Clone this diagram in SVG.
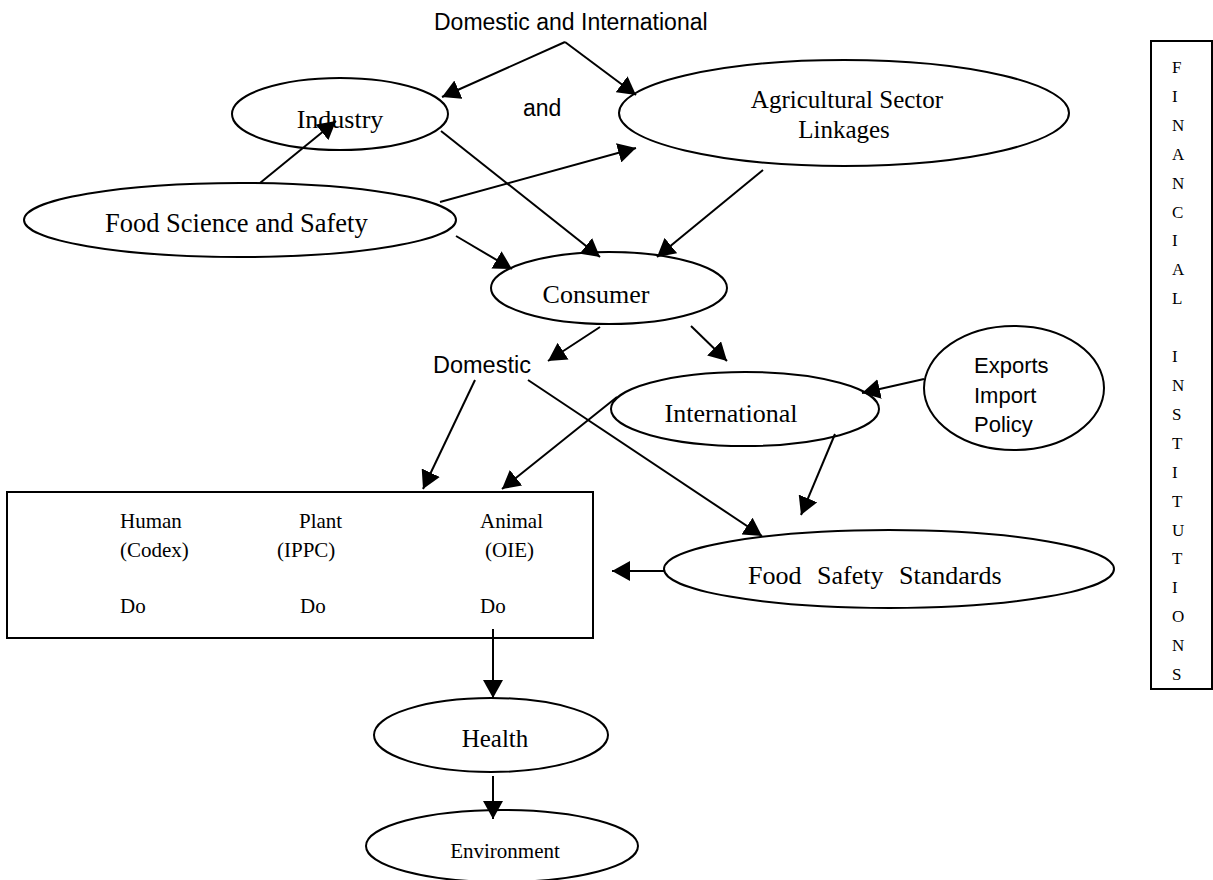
<svg xmlns="http://www.w3.org/2000/svg" width="1213" height="880" viewBox="0 0 1213 880">
<style>
.node ellipse, .node rect { fill: #fff; stroke: #000; stroke-width: 2; }
.serif { font-family: "Liberation Serif", "Times New Roman", serif; fill: #000; }
.sans { font-family: "Liberation Sans", Arial, sans-serif; fill: #000; }
.mid { text-anchor: middle; }
#connectors line { stroke: #000; stroke-width: 2; fill: none; marker-end: url(#arrow); }
#connectors line.plain { marker-end: none; }
</style>
<defs>
<marker id="arrow" markerUnits="userSpaceOnUse" markerWidth="20" markerHeight="20" refX="18" refY="10" orient="auto">
<path d="M0,0 L18,10 L0,20 z" fill="#000"/>
</marker>
</defs>
<rect width="1213" height="880" fill="#fff"/>

<g id="label-top"><text class="sans" x="434" y="30" font-size="23">Domestic and International</text></g>
<g id="label-and"><text class="sans" x="523" y="116" font-size="23">and</text></g>

<g id="industry" class="node">
<ellipse cx="340" cy="114" rx="108" ry="36"/>
<text class="serif mid" x="340" y="128" font-size="26">Industry</text>
</g>
<g id="agri" class="node">
<ellipse cx="844" cy="113" rx="225" ry="53"/>
<text class="serif mid" x="847" y="108" font-size="25">Agricultural Sector</text>
<text class="serif mid" x="844" y="138" font-size="25">Linkages</text>
</g>
<g id="foodscience" class="node">
<ellipse cx="240" cy="220" rx="216" ry="37"/>
<text class="serif" x="105" y="232" font-size="26.5">Food Science and Safety</text>
</g>
<g id="consumer" class="node">
<ellipse cx="609" cy="288" rx="118" ry="36"/>
<text class="serif mid" x="596" y="303" font-size="26">Consumer</text>
</g>
<g id="domestic"><text class="sans" x="433" y="373" font-size="23.5">Domestic</text></g>
<g id="international" class="node">
<ellipse cx="745" cy="409" rx="134" ry="37"/>
<text class="serif mid" x="731" y="422" font-size="26">International</text>
</g>
<g id="exports" class="node">
<ellipse cx="1014" cy="388" rx="90" ry="62"/>
<text class="sans" x="974" y="373" font-size="22">Exports</text>
<text class="sans" x="974" y="403" font-size="22">Import</text>
<text class="sans" x="974" y="432" font-size="22">Policy</text>
</g>
<g id="standards-box" class="node">
<rect x="7" y="492" width="586" height="146"/>
<text class="serif" x="120" y="528" font-size="21">Human</text>
<text class="serif" x="120" y="557" font-size="21">(Codex)</text>
<text class="serif" x="299" y="528" font-size="21">Plant</text>
<text class="serif" x="277" y="557" font-size="21">(IPPC)</text>
<text class="serif" x="480" y="528" font-size="21">Animal</text>
<text class="serif" x="485" y="557" font-size="21">(OIE)</text>
<text class="serif" x="120" y="613" font-size="21">Do</text>
<text class="serif" x="300" y="613" font-size="21">Do</text>
<text class="serif" x="480" y="613" font-size="21">Do</text>
</g>
<g id="fss" class="node">
<ellipse cx="889" cy="569" rx="225" ry="39"/>
<text class="serif" x="748" y="584" font-size="26">Food</text>
<text class="serif" x="817" y="584" font-size="26">Safety</text>
<text class="serif" x="899" y="584" font-size="26">Standards</text>
</g>
<g id="health" class="node">
<ellipse cx="491" cy="735" rx="117" ry="37"/>
<text class="serif mid" x="495" y="747" font-size="25">Health</text>
</g>
<g id="environment" class="node">
<ellipse cx="502" cy="846" rx="136" ry="36"/>
<text class="serif mid" x="505" y="858" font-size="21">Environment</text>
</g>
<g id="financial" class="node">
<rect x="1151" y="41" width="61" height="648"/>
<text class="serif" font-size="17">
<tspan x="1172" y="73">F</tspan>
<tspan x="1172" y="102">I</tspan>
<tspan x="1172" y="131">N</tspan>
<tspan x="1172" y="160">A</tspan>
<tspan x="1172" y="189">N</tspan>
<tspan x="1172" y="218">C</tspan>
<tspan x="1172" y="246">I</tspan>
<tspan x="1172" y="275">A</tspan>
<tspan x="1172" y="304">L</tspan>
<tspan x="1172" y="362">I</tspan>
<tspan x="1172" y="391">N</tspan>
<tspan x="1172" y="420">S</tspan>
<tspan x="1172" y="449">T</tspan>
<tspan x="1172" y="478">I</tspan>
<tspan x="1172" y="507">T</tspan>
<tspan x="1172" y="536">U</tspan>
<tspan x="1172" y="564">T</tspan>
<tspan x="1172" y="593">I</tspan>
<tspan x="1172" y="622">O</tspan>
<tspan x="1172" y="651">N</tspan>
<tspan x="1172" y="680">S</tspan>
</text>
</g>

<g id="connectors">
<line x1="565" y1="42" x2="442" y2="97"/>
<line x1="565" y1="42" x2="636" y2="95"/>
<line x1="260" y1="183" x2="336" y2="121"/>
<line x1="440" y1="202" x2="636" y2="148"/>
<line x1="441" y1="131" x2="600" y2="257"/>
<line x1="456" y1="236" x2="512" y2="269"/>
<line x1="763" y1="170" x2="657" y2="257"/>
<line x1="600" y1="327" x2="548" y2="361"/>
<line x1="691" y1="326" x2="727" y2="361"/>
<line x1="475" y1="380" x2="423" y2="489"/>
<line x1="617" y1="397" x2="502" y2="489"/>
<line x1="528" y1="380" x2="762" y2="536"/>
<line x1="835" y1="434" x2="801" y2="515"/>
<line x1="924" y1="379" x2="862" y2="393"/>
<line x1="665" y1="571" x2="612" y2="571"/>
<line x1="493" y1="629" x2="493" y2="698"/>
<line x1="493" y1="776" x2="493" y2="819"/>
</g>
</svg>
